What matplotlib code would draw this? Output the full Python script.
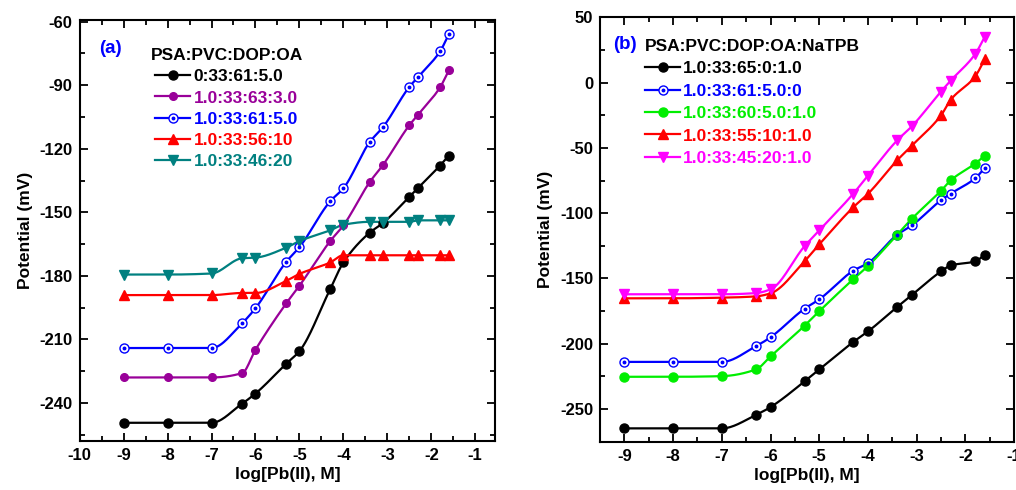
import numpy as np
import matplotlib
matplotlib.use("Agg")
import matplotlib.pyplot as plt
from matplotlib.ticker import MultipleLocator
from matplotlib.legend_handler import HandlerTuple

plt.rcParams['font.family'] = ['Liberation Sans', 'DejaVu Sans']
plt.rcParams['font.weight'] = 'bold'
plt.rcParams['axes.labelweight'] = 'bold'
plt.rcParams['axes.unicode_minus'] = False

# log[Pb(II)] concentrations used for every curve
log_pb = [-9, -8, -7, -6.3, -6, -5.3, -5, -4.3, -4, -3.4, -3.1, -2.5, -2.3, -1.8, -1.6]

# panel (a): PSA:PVC:DOP:OA
labels_a = ['0:33:61:5.0', '1.0:33:63:3.0', '1.0:33:61:5.0', '1.0:33:56:10', '1.0:33:46:20']
a_0_33_61_5 = [-249.4, -249.4, -249.4, -240.3, -235.6, -221.5, -215.6, -186.3, -173.7,
               -159.6, -155.1, -142.7, -138.5, -127.9, -123.2]
a_1_33_63_3 = [-228.0, -228.0, -228.0, -225.9, -214.9, -193.0, -184.7, -163.6, -156.2,
               -135.7, -127.7, -108.9, -103.9, -91.0, -83.0]
a_1_33_61_5 = [-214.1, -214.1, -214.1, -202.3, -195.3, -173.4, -166.5, -144.8, -138.7,
               -116.8, -109.8, -90.8, -86.1, -74.0, -65.9]
a_1_33_56_10 = [-189.1, -189.1, -189.1, -188.1, -188.1, -182.4, -179.1, -173.7, -170.3,
                -170.3, -170.3, -170.3, -170.3, -170.3, -170.3]
a_1_33_46_20 = [-179.4, -179.4, -178.9, -171.7, -171.4, -166.7, -163.6, -158.5, -155.9,
                -154.5, -154.5, -154.5, -153.8, -153.8, -153.8]

# panel (b): PSA:PVC:DOP:OA:NaTPB
labels_b = ['1.0:33:65:0:1.0', '1.0:33:61:5.0:0', '1.0:33:60:5.0:1.0', '1.0:33:55:10:1.0',
            '1.0:33:45:20:1.0']
b_65_0_1 = [-264.8, -264.8, -264.8, -254.6, -248.5, -228.8, -219.7, -198.6, -190.6,
            -171.8, -162.7, -144.6, -140.0, -136.9, -131.8]
b_61_5_0 = [-213.9, -213.9, -213.9, -201.9, -195.0, -173.1, -166.0, -144.0, -138.2,
            -116.5, -109.4, -90.1, -85.0, -73.3, -65.3]
b_60_5_1 = [-225.3, -225.3, -224.8, -219.7, -209.7, -186.1, -175.1, -150.5, -140.5,
            -116.5, -104.3, -82.9, -74.8, -62.0, -55.9]
b_55_10_1 = [-165.2, -165.2, -164.7, -163.7, -161.4, -136.7, -123.9, -95.4, -85.2,
             -59.5, -48.3, -25.1, -13.1, 4.7, 18.0]
b_45_20_1 = [-162.1, -162.1, -162.1, -161.2, -158.3, -125.2, -113.2, -85.0, -71.2,
             -44.2, -33.5, -6.8, 1.6, 21.8, 35.2]


def smooth(x, y, n=300):
    # monotone cubic (pchip) connection between measured points
    x = np.asarray(x, float)
    y = np.asarray(y, float)
    h = np.diff(x)
    d = np.diff(y) / h
    m = np.zeros_like(y)
    m[0], m[-1] = d[0], d[-1]
    for k in range(1, len(x) - 1):
        if d[k - 1] * d[k] > 0:
            w1 = 2 * h[k] + h[k - 1]
            w2 = h[k] + 2 * h[k - 1]
            m[k] = (w1 + w2) / (w1 / d[k - 1] + w2 / d[k])
    xs = np.linspace(x[0], x[-1], n)
    i = np.clip(np.searchsorted(x, xs) - 1, 0, len(x) - 2)
    t = (xs - x[i]) / h[i]
    h00 = 2 * t**3 - 3 * t**2 + 1
    h10 = t**3 - 2 * t**2 + t
    h01 = -2 * t**3 + 3 * t**2
    h11 = t**3 - t**2
    ys = h00 * y[i] + h10 * h[i] * m[i] + h01 * y[i + 1] + h11 * h[i] * m[i + 1]
    return xs, ys


def draw(ax, y, color, marker, ms, mfc=None, dot=False):
    xs, ys = smooth(log_pb, y)
    ax.plot(xs, ys, color=color, lw=1.6, zorder=2)
    mk = ax.plot(log_pb, y, ls='none', marker=marker, ms=ms, mfc=mfc or color,
                 mec=color, mew=1.0, zorder=3)[0]
    ln = ax.plot([], [], color=color, lw=1.6)[0]
    handle = [ln, mk]
    if dot:
        handle.append(ax.plot(log_pb, y, ls='none', marker='o', ms=1.8, color=color,
                              zorder=4)[0])
    return tuple(handle)


def style(ax):
    for s in ax.spines.values():
        s.set_linewidth(1.5)
    ax.tick_params(which='both', direction='in', top=True, right=True, width=1.3,
                   labelsize=12, pad=5)
    ax.tick_params(which='major', length=6)
    ax.tick_params(which='minor', length=3.5)
    ax.xaxis.set_major_locator(MultipleLocator(1))
    ax.xaxis.set_minor_locator(MultipleLocator(0.5))
    ax.set_xlabel('log[Pb(II), M]', fontsize=12.5, labelpad=3)
    ax.set_ylabel('Potential (mV)', fontsize=12.5, labelpad=5)


fig = plt.figure(figsize=(10.16, 4.9), dpi=100)
ax1 = fig.add_axes([0.0784, 0.100, 0.4088, 0.860])
ax2 = fig.add_axes([0.5906, 0.0986, 0.4075, 0.866])

# panel (a)
cols_a = ['black', '#990099', '#0000ff', '#ff0000', '#008080']
h_a = [
    draw(ax1, a_0_33_61_5, cols_a[0], 'o', 6.5),
    draw(ax1, a_1_33_63_3, cols_a[1], 'o', 5.5),
    draw(ax1, a_1_33_61_5, cols_a[2], 'o', 6.5, mfc='white', dot=True),
    draw(ax1, a_1_33_56_10, cols_a[3], '^', 7),
    draw(ax1, a_1_33_46_20, cols_a[4], 'v', 7),
]
ax1.set_xlim(-10, -0.55)
ax1.set_ylim(-258, -59)
ax1.yaxis.set_major_locator(MultipleLocator(30))
ax1.yaxis.set_minor_locator(MultipleLocator(15))
style(ax1)
ax1.text(0.046, 0.932, '(a)', transform=ax1.transAxes, color='#0000ff', fontsize=13.5,
         fontweight='bold', va='center')
leg = ax1.legend(h_a, labels_a, title='PSA:PVC:DOP:OA', loc='upper left',
                 bbox_to_anchor=(0.15, 0.953), frameon=False, borderpad=0,
                 handlelength=2.0, handletextpad=0.2, labelspacing=0.35,
                 prop={'size': 12.5, 'weight': 'bold'},
                 title_fontproperties={'size': 12.5, 'weight': 'bold'},
                 handler_map={tuple: HandlerTuple(ndivide=1)})
for t, c in zip(leg.get_texts(), cols_a):
    t.set_color(c)

# panel (b)
cols_b = ['black', '#0000ff', '#00ee00', '#ff0000', '#ff00ff']
h_b = [
    draw(ax2, b_65_0_1, cols_b[0], 'o', 6.5),
    draw(ax2, b_61_5_0, cols_b[1], 'o', 6.5, mfc='white', dot=True),
    draw(ax2, b_60_5_1, cols_b[2], 'o', 6.5),
    draw(ax2, b_55_10_1, cols_b[3], '^', 7),
    draw(ax2, b_45_20_1, cols_b[4], 'v', 7),
]
ax2.set_xlim(-9.5, -1.0)
ax2.set_ylim(-275, 50)
ax2.yaxis.set_major_locator(MultipleLocator(50))
ax2.yaxis.set_minor_locator(MultipleLocator(25))
style(ax2)
ax2.text(0.031, 0.935, '(b)', transform=ax2.transAxes, color='#0000ff', fontsize=13.5,
         fontweight='bold', va='center')
leg = ax2.legend(h_b, labels_b, title='PSA:PVC:DOP:OA:NaTPB', loc='upper left',
                 bbox_to_anchor=(0.088, 0.970), frameon=False, borderpad=0,
                 handlelength=2.0, handletextpad=0.2, labelspacing=0.42,
                 alignment='left',
                 prop={'size': 12.5, 'weight': 'bold'},
                 title_fontproperties={'size': 12.5, 'weight': 'bold'},
                 handler_map={tuple: HandlerTuple(ndivide=1)})
for t, c in zip(leg.get_texts(), cols_b):
    t.set_color(c)

fig.savefig('out.png', dpi=100)
